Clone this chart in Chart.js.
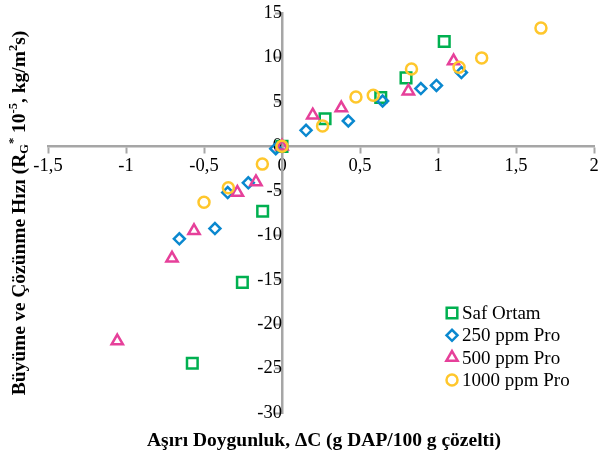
<!DOCTYPE html>
<html>
<head>
<meta charset="utf-8">
<script src="https://cdn.jsdelivr.net/npm/chart.js@4.4.1/dist/chart.umd.min.js"></script>
<style>
  html, body { margin: 0; padding: 0; background: #fff; }
  #wrap { width: 600px; height: 458px; }
</style>
</head>
<body>
<div id="wrap"><canvas id="rateChart"></canvas></div>
<script>
// data
const seriesNames = ['Saf Ortam', '250 ppm Pro', '500 ppm Pro', '1000 ppm Pro'];

const safX = [-0.575, -0.254, -0.124, 0, 0.276, 0.633, 0.795, 1.04];
const safY = [-24.4, -15.3, -7.3, 0, 3.1, 5.5, 7.7, 11.8];

const pro250X = [-0.658, -0.43, -0.348, -0.216, -0.04, 0.154, 0.425, 0.645, 0.89, 0.99, 1.15];
const pro250Y = [-10.4, -9.25, -5.2, -4.1, -0.26, 1.8, 2.85, 5.1, 6.5, 6.85, 8.3];

const pro500X = [-1.056, -0.705, -0.564, -0.286, -0.167, 0, 0.197, 0.38, 0.81, 1.10];
const pro500Y = [-21.9, -12.6, -9.5, -5.2, -4.0, 0, 3.5, 4.3, 6.2, 9.6];

const pro1000X = [-0.5, -0.344, -0.126, 0, 0.26, 0.474, 0.585, 0.83, 1.135, 1.28, 1.66];
const pro1000Y = [-6.3, -4.65, -2.0, 0, 2.3, 5.55, 5.75, 8.7, 8.9, 9.95, 13.3];

const xMin = -1.5, xMax = 2, xStep = 0.5;
const yMin = -30, yMax = 15, yStep = 5;

const FONT = '"Liberation Serif", "Times New Roman", serif';
const AXIS_GRAY = '#a6a6a6';

// plot box in canvas pixels
const PLOT = { left: 48, right: 594, top: 13, bottom: 413 };

function toPoints(xs, ys) {
    return xs.map((x, i) => ({ x: x, y: ys[i] }));
}

const styles = [
    { color: '#00b050', pointStyle: 'rect', radius: 7.5 },
    { color: '#0a88cf', pointStyle: 'rectRot', radius: 5.5 },
    { color: '#e6409a', pointStyle: 'triangle', radius: 6.5 },
    { color: '#ffc72c', pointStyle: 'circle', radius: 5.5 }
];

const allSeries = [
    toPoints(safX, safY),
    toPoints(pro250X, pro250Y),
    toPoints(pro500X, pro500Y),
    toPoints(pro1000X, pro1000Y)
];

const datasets = allSeries.map((pts, i) => ({
    label: seriesNames[i],
    data: pts,
    pointStyle: styles[i].pointStyle,
    pointRadius: styles[i].radius,
    pointBorderColor: styles[i].color,
    pointBackgroundColor: 'rgba(255,255,255,0)',
    pointBorderWidth: 2.5,
    showLine: false,
    order: 4 - i
}));

// draw a run of text pieces with sub/superscripts, centred on (cx, cy)
function drawRich(ctx, parts, cx, cy) {
    let total = 0;
    parts.forEach(p => {
        ctx.font = 'bold ' + p.size + 'px ' + FONT;
        p.w = ctx.measureText(p.t).width;
        total += p.w;
    });
    let x = cx - total / 2;
    parts.forEach(p => {
        ctx.font = 'bold ' + p.size + 'px ' + FONT;
        ctx.fillText(p.t, x, cy + (p.dy || 0));
        x += p.w;
    });
}

// labels may hang over the plot edges, like in the original
function noEdgePadding(scale) {
    scale.paddingLeft = 0;
    scale.paddingRight = 0;
    scale.paddingTop = 0;
    scale.paddingBottom = 0;
}

// pin the crossing axes to the same box as the original
const pinPlotPlugin = {
    id: 'pinPlot',
    afterLayout(chart) {
        const xs = chart.scales.x, ys = chart.scales.y, area = chart.chartArea;
        xs.left = PLOT.left; xs.right = PLOT.right; xs.width = PLOT.right - PLOT.left;
        ys.top = PLOT.top; ys.bottom = PLOT.bottom; ys.height = PLOT.bottom - PLOT.top;
        xs.configure();
        ys.configure();
        area.left = PLOT.left; area.right = PLOT.right;
        area.top = PLOT.top; area.bottom = PLOT.bottom;
        area.width = PLOT.right - PLOT.left; area.height = PLOT.bottom - PLOT.top;
    }
};

const extrasPlugin = {
    id: 'extras',
    afterDraw(chart) {
        const ctx = chart.ctx;
        ctx.save();
        ctx.fillStyle = '#000';
        ctx.textBaseline = 'middle';
        ctx.textAlign = 'left';

        // x axis title
        drawRich(ctx, [{ t: 'Aşırı Doygunluk, ΔC (g DAP/100 g çözelti)', size: 19.5 }],
            324, 441);

        // y axis title, rotated
        ctx.save();
        ctx.translate(20, 213);
        ctx.rotate(-Math.PI / 2);
        drawRich(ctx, [
            { t: 'Büyüme ve Çözünme Hızı (R', size: 19.5 },
            { t: 'G', size: 12.5, dy: 5 },
            { t: '*', size: 12.5, dy: -6 },
            { t: ' 10', size: 19.5 },
            { t: '-5', size: 12.5, dy: -6 },
            { t: ', kg/m', size: 19.5 },
            { t: '2', size: 12.5, dy: -6 },
            { t: 's)', size: 19.5 }
        ], 0, 0);
        ctx.restore();

        // legend inside the plot
        const lx = 452, ly = 313, gap = 22.3;
        chart.data.datasets.forEach((ds, i) => {
            const y = ly + i * gap;
            ctx.strokeStyle = ds.pointBorderColor;
            ctx.fillStyle = 'rgba(255,255,255,0)';
            ctx.lineWidth = 2.5;
            Chart.helpers.drawPoint(ctx, {
                pointStyle: ds.pointStyle,
                radius: ds.pointRadius,
                rotation: 0,
                borderWidth: 2.5
            }, lx, y);
            ctx.fillStyle = '#000';
            ctx.font = '19px ' + FONT;
            ctx.fillText(ds.label, 462, y + 1);
        });
        ctx.restore();
    }
};

new Chart(document.getElementById('rateChart').getContext('2d'), {
    type: 'scatter',
    data: { datasets: datasets },
    options: {
        responsive: true,
        maintainAspectRatio: false,
        animation: false,
        layout: { padding: { left: 48, right: 0, top: 13, bottom: 45 } },
        plugins: {
            legend: { display: false },
            tooltip: { enabled: false }
        },
        scales: {
            x: {
                type: 'linear',
                min: xMin,
                max: xMax,
                position: { y: 0 },
                afterFit: noEdgePadding,
                border: { color: AXIS_GRAY, width: 2.5 },
                grid: { drawOnChartArea: false, drawTicks: true, tickLength: 6, tickColor: AXIS_GRAY, tickWidth: 2 },
                ticks: {
                    stepSize: xStep,
                    color: '#000',
                    padding: 3,
                    font: { family: FONT, size: 18.5 },
                    maxRotation: 0,
                    callback: v => String(v).replace('.', ',')
                }
            },
            y: {
                type: 'linear',
                min: yMin,
                max: yMax,
                position: { x: 0 },
                afterFit: noEdgePadding,
                border: { color: AXIS_GRAY, width: 2.5 },
                grid: { drawOnChartArea: false, drawTicks: true, tickLength: 6, tickColor: AXIS_GRAY, tickWidth: 2 },
                ticks: {
                    stepSize: yStep,
                    color: '#000',
                    padding: 9,
                    font: { family: FONT, size: 18.5 }
                }
            }
        }
    },
    plugins: [pinPlotPlugin, extrasPlugin]
});
</script>
</body>
</html>
